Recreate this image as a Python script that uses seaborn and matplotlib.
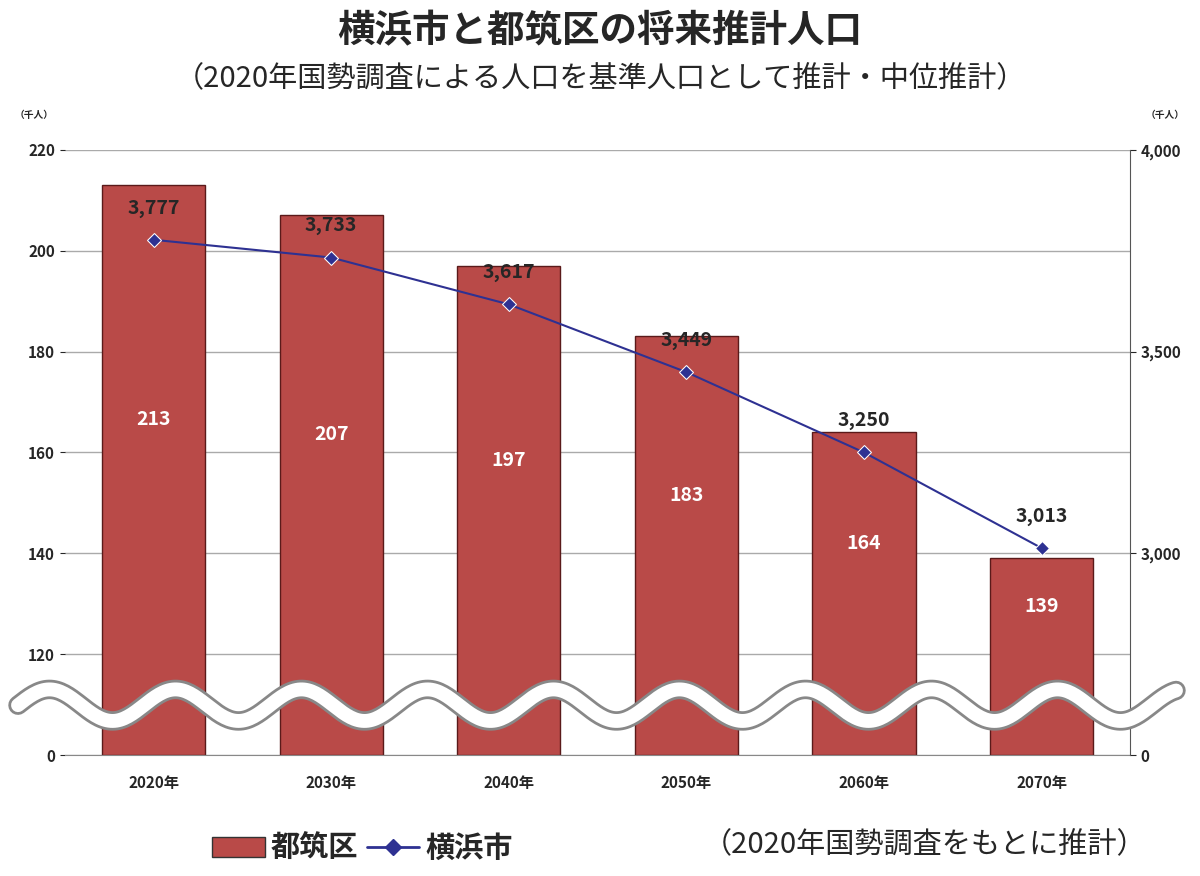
import matplotlib.pyplot as plt
import seaborn as sns
import numpy as np
import pandas as pd
from matplotlib.lines import Line2D
from matplotlib.patches import Patch

years = ["2020年", "2030年", "2040年", "2050年", "2060年", "2070年"]
tsuzuki = [213, 207, 197, 183, 164, 139]
yokohama = [3777, 3733, 3617, 3449, 3250, 3013]

sns.set_style("white")
plt.rcParams['font.family'] = ['Noto Sans CJK JP', 'DejaVu Sans']

BASE = 100  # display position of the broken-axis zero
df = pd.DataFrame({"year": years, "tsuzuki": tsuzuki, "h": [v - BASE for v in tsuzuki]})

fig = plt.figure(figsize=(12, 8.76), dpi=100)
ax = fig.add_axes([0.054, 0.138, 0.888, 0.691])
sns.barplot(data=df, x="year", y="h", bottom=BASE, color="#B94A48", edgecolor="#5a1a1a",
            linewidth=1, width=0.58, saturation=1, ax=ax)
ax.set_ylim(BASE, 220)
ax.set_yticks([100, 120, 140, 160, 180, 200, 220])
ax.set_yticklabels(["0", "120", "140", "160", "180", "200", "220"], fontsize=11, fontweight="bold")
ax.yaxis.grid(True, color="#aaaaaa", linewidth=1)
ax.set_axisbelow(True)
ax.set_xlabel("")
ax.set_ylabel("")
ax.tick_params(axis="x", labelsize=11, length=0, pad=14)
for t in ax.get_xticklabels():
    t.set_fontweight("bold")
for s in ["top", "right", "left"]:
    ax.spines[s].set_visible(False)
ax.spines["bottom"].set_color("#888888")
ax.set_xlim(-0.5, 5.5)
for i, v in enumerate(tsuzuki):
    ax.text(i, (BASE + v) / 2 + 10, str(v), ha="center", va="center", color="white",
            fontsize=14, fontweight="bold")

ax2 = ax.twinx()
sns.lineplot(x=list(range(6)), y=yokohama, color="#2E3192", marker="D", markersize=7,
             linewidth=1.5, ax=ax2)
ax2.set_ylim(2500, 4000)
ax2.set_yticks([2500, 3000, 3500, 4000])
ax2.set_yticklabels(["0", "3,000", "3,500", "4,000"], fontsize=11, fontweight="bold")
for s in ["top", "left", "bottom"]:
    ax2.spines[s].set_visible(False)
ax2.spines["right"].set_color("#555555")
ax2.tick_params(axis="y", length=4)
for i, v in enumerate(yokohama):
    ax2.text(i, v + 55, f"{v:,}", ha="center", va="bottom", fontsize=14, fontweight="bold")

# wave break
xs = np.linspace(0.015, 0.98, 600)
ys = 0.195 + 0.018 * np.sin((xs - 0.015) * 2 * np.pi / 0.105)
fig.add_artist(Line2D(xs, ys, color="#888888", linewidth=14, transform=fig.transFigure))
fig.add_artist(Line2D(xs, ys, color="white", linewidth=10, transform=fig.transFigure))

fig.text(0.5, 0.965, "横浜市と都筑区の将来推計人口", ha="center", va="center",
         fontsize=27, fontweight="bold")
fig.text(0.5, 0.91, "（2020年国勢調査による人口を基準人口として推計・中位推計）", ha="center",
         va="center", fontsize=21)
fig.text(0.012, 0.865, "（千人）", fontsize=7, fontweight="bold")
fig.text(0.955, 0.865, "（千人）", fontsize=7, fontweight="bold")

handles = [Patch(facecolor="#B94A48", edgecolor="#333333"),
           Line2D([0], [0], color="#2E3192", marker="D", markersize=8, linewidth=2)]
fig.legend(handles, ["都筑区", "横浜市"], loc="center left", bbox_to_anchor=(0.155, 0.032),
           frameon=False, fontsize=21, ncol=2, handlelength=1.8, handletextpad=0.2,
           columnspacing=0.3, prop={"weight": "bold", "size": 21})
fig.text(0.955, 0.035, "（2020年国勢調査をもとに推計）", ha="right", va="center", fontsize=21)

fig.savefig("out.png", dpi=100)
